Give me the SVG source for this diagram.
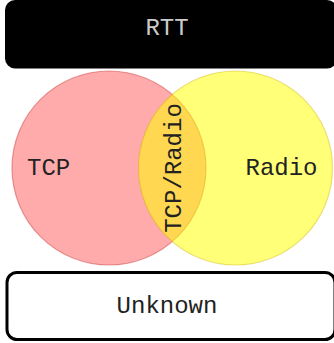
<svg xmlns="http://www.w3.org/2000/svg" width="334" height="343" viewBox="0 0 334 343">
<style>
text{font-family:"Liberation Mono","Courier New",monospace;font-size:24px;}
.dark{fill:#222;}
</style>
<rect width="334" height="343" fill="#ffffff"/>
<g id="rtt">
<rect x="5" y="0" width="332" height="68.5" rx="10" fill="#000"/>
<text x="167" y="35" text-anchor="middle" fill="#cccccc">RTT</text>
</g>
<g id="tcp">
<circle cx="109" cy="168" r="97" fill="#ff0000" fill-opacity="0.33" stroke="#cc4444" stroke-opacity="0.5" stroke-width="1.2"/>
</g>
<g id="radio">
<circle cx="235.5" cy="168" r="97" fill="#ffff00" fill-opacity="0.53" stroke="#ccb000" stroke-opacity="0.4" stroke-width="1.2"/>
</g>
<g id="labels">
<text class="dark" x="27" y="175">TCP</text>
<text class="dark" x="245.5" y="175">Radio</text>
<text class="dark" transform="translate(180.5,168) rotate(-90)" text-anchor="middle">TCP/Radio</text>
</g>
<g id="unknown">
<rect x="7" y="272.5" width="328" height="67" rx="10" fill="#fff" stroke="#000" stroke-width="3"/>
<text class="dark" x="167" y="312.5" text-anchor="middle">Unknown</text>
</g>
<g id="connectors"/>
</svg>
